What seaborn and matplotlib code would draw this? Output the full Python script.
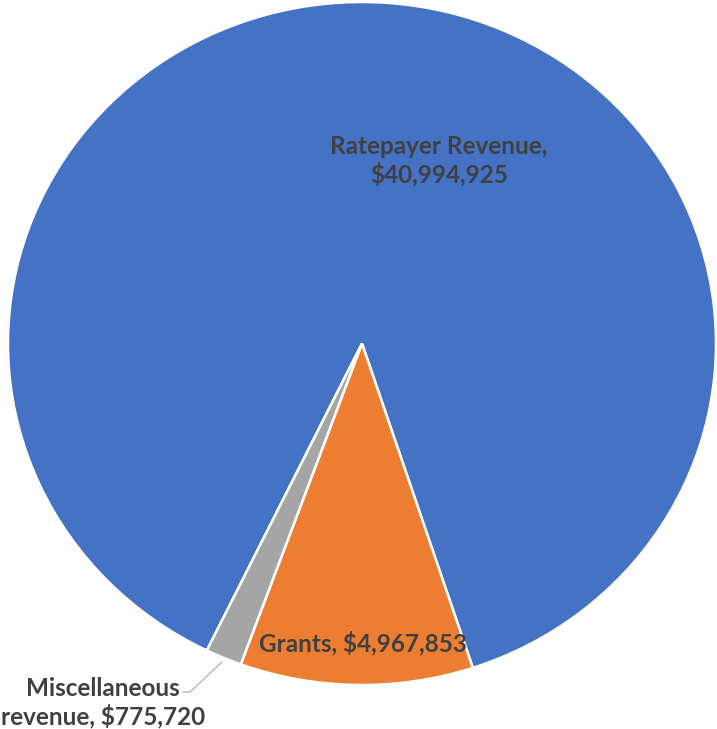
import matplotlib
matplotlib.use("Agg")
import matplotlib.pyplot as plt
import seaborn as sns

categories = ["Ratepayer Revenue", "Grants", "Miscellaneous revenue"]
values = [40994925, 4967853, 775720]
colors = ["#4472C4", "#ED7D31", "#A5A5A5"]

sns.set_theme(style="white")
plt.rcParams["font.family"] = ["Lato", "DejaVu Sans"]

W, H = 717, 729
# the pie in the reference is slightly squashed vertically
RX, RY = 354.0, 341.5
cx, cy = 362.0, 343.5

fig = plt.figure(figsize=(W / 100, H / 100), dpi=100)
ax = fig.add_axes([0, 0, 1, 1])

ax.pie(values, colors=colors, startangle=-116, counterclock=False,
       radius=1.0, center=(0, 0), frame=True,
       wedgeprops=dict(edgecolor="white", linewidth=1.8))


def px(x, y):
    # pixel position -> data coords
    return (x - cx) / RX, (cy - y) / RY


ax.set_xlim(-cx / RX, (W - cx) / RX)
ax.set_ylim(-(H - cy) / RY, cy / RY)
ax.set_aspect("auto")
ax.axis("off")

txt = dict(color="#404040", fontsize=17.5, fontweight="bold")


def fmt(v):
    return f"${v:,.0f}"


x, y = px(439, 161)
ax.text(x, y, f"{categories[0]},\n{fmt(values[0])}", ha="center", va="center",
        linespacing=1.2, **txt)
x, y = px(363, 643)
ax.text(x, y, f"{categories[1]}, {fmt(values[1])}", ha="center", va="center", **txt)
x, y = px(103, 703)
ax.text(x, y, "Miscellaneous\nrevenue, " + fmt(values[2]), ha="center", va="center",
        linespacing=1.2, **txt)

# leader line for the small slice
lx, ly = zip(px(183, 692), px(190, 692), px(222, 662))
ax.plot(lx, ly, color="#A6A6A6", linewidth=0.8)

fig.savefig("out.png", dpi=100)
